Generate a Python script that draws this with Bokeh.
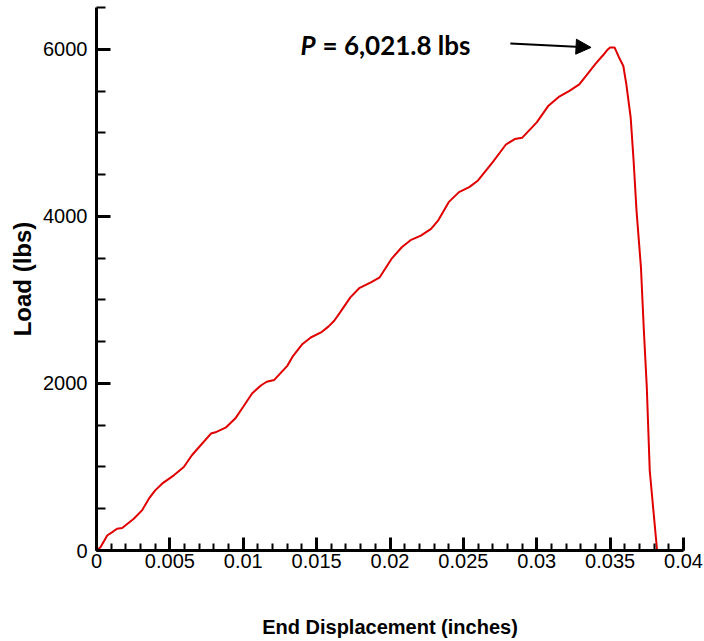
from bokeh.plotting import figure
from bokeh.models import SingleIntervalTicker, Range1d, Arrow, NormalHead, Label
from bokeh.embed import file_html
from bokeh.resources import INLINE

# End displacement (inches)
disp = [0.0, 0.00027, 0.00073, 0.00107, 0.0014, 0.00175, 0.00254, 0.0031, 0.00357, 0.0040,
        0.00454, 0.00527, 0.00595, 0.0065, 0.0071, 0.0078, 0.0081, 0.0088, 0.0095, 0.0100,
        0.0106, 0.0112, 0.0116, 0.0121, 0.0130, 0.0134, 0.0140, 0.0146, 0.0153, 0.0158,
        0.0162, 0.0166, 0.0173, 0.0179, 0.0187, 0.0193, 0.0201, 0.0208, 0.0214, 0.0221,
        0.0228, 0.0233, 0.0240, 0.0247, 0.0254, 0.0260, 0.0270, 0.0279, 0.0285, 0.0290,
        0.0300, 0.0308, 0.0315, 0.0322, 0.0329, 0.0334, 0.0340, 0.0345, 0.0348, 0.0350,
        0.0353, 0.0356, 0.0359, 0.0361, 0.0364, 0.0366, 0.0368, 0.0371, 0.0373, 0.0375,
        0.0377, 0.0382]
# Load (lbs)
load = [0, 40, 180, 220, 260, 270, 380, 480, 620, 720,
        810, 900, 1000, 1140, 1260, 1400, 1415, 1470, 1590, 1720,
        1880, 1975, 2020, 2040, 2210, 2330, 2465, 2550, 2610, 2680,
        2750, 2850, 3030, 3140, 3210, 3270, 3490, 3630, 3715, 3770,
        3850, 3955, 4170, 4290, 4350, 4430, 4650, 4860, 4925, 4940,
        5125, 5325, 5430, 5500, 5580, 5690, 5825, 5925, 5990, 6021.8,
        6021.8, 5905, 5800, 5585, 5185, 4665, 4065, 3390, 2630, 1950,
        955, 0]

x_ticks_interval = 0.005
y_ticks_interval = 2000
peak_label_p = "P"
peak_label_rest = "= 6,021.8 lbs"

p = figure(width=704, height=641, output_backend="svg", toolbar_location=None,
           x_range=Range1d(0, 0.04), y_range=Range1d(0, 6500),
           min_border_left=96, min_border_right=21, min_border_top=7, min_border_bottom=91)

p.line(disp, load, line_color="#e00000", line_width=2)

p.xgrid.visible = False
p.ygrid.visible = False
p.outline_line_color = None
p.background_fill_color = "white"
p.border_fill_color = "white"

xa = p.xaxis[0]
ya = p.yaxis[0]
xa.ticker = SingleIntervalTicker(interval=x_ticks_interval, num_minor_ticks=5)
ya.ticker = SingleIntervalTicker(interval=y_ticks_interval, num_minor_ticks=4)

for ax in (xa, ya):
    ax.axis_line_width = 3
    ax.axis_line_color = "black"
    ax.major_tick_line_width = 3
    ax.minor_tick_line_width = 2
    ax.major_tick_line_color = "black"
    ax.minor_tick_line_color = "black"
    ax.major_tick_out = 0
    ax.minor_tick_out = 0
    ax.major_label_text_font = "Liberation Sans"
    ax.major_label_text_font_size = "20px"
    ax.major_label_text_color = "black"
    ax.axis_label_text_font = "Liberation Sans"
    ax.axis_label_text_font_style = "bold"
    ax.axis_label_text_color = "black"

xa.major_tick_in = 13
xa.minor_tick_in = 7
ya.major_tick_in = 14
ya.minor_tick_in = 9

xa.axis_label = "End Displacement (inches)"
xa.axis_label_text_font_size = "20px"
xa.major_label_standoff = 3
xa.axis_label_standoff = 45

ya.axis_label = "Load (lbs)"
ya.axis_label_text_font_size = "24px"
ya.major_label_standoff = 9
ya.axis_label_standoff = 4

# Annotation
p.add_layout(Label(x=0.01390, y=6054, text=peak_label_p, text_font="Lato",
                   text_font_style="bold italic", text_font_size="26px",
                   text_color="black", text_baseline="middle"))
p.add_layout(Label(x=0.01540, y=6054, text=peak_label_rest, text_font="Lato",
                   text_font_style="bold", text_font_size="26px",
                   text_color="black", text_baseline="middle"))
p.add_layout(Arrow(x_start=0.0282, y_start=6070, x_end=0.0337, y_end=6022,
                   line_width=2, line_color="black",
                   end=NormalHead(size=15, fill_color="black", line_color="black")))

open("out.html", "w").write(file_html(p, INLINE))
